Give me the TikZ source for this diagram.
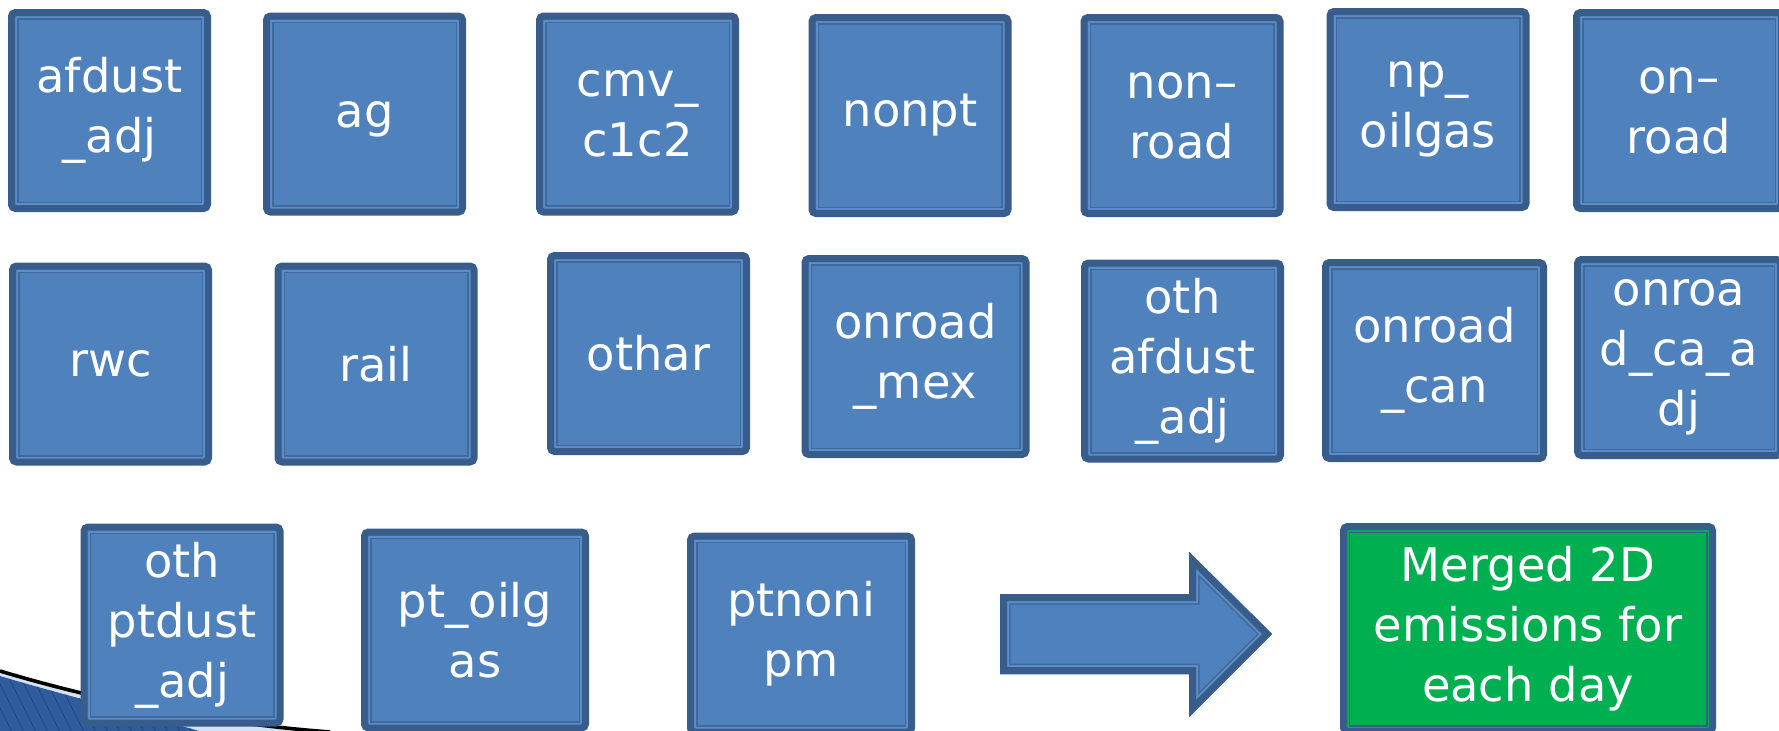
\documentclass[tikz,border=0pt]{standalone}
\usepackage{fontspec}
\setmainfont{DejaVu Sans}
\usepackage{xcolor}
\usepackage{tikz}
\usetikzlibrary{positioning}
\definecolor{boxfill}{HTML}{4F81BD}
\definecolor{boxedge}{HTML}{385D8A}
\definecolor{boxlight}{HTML}{5A8DCB}
\definecolor{boxinner}{HTML}{41699B}
\definecolor{mergefill}{HTML}{00B050}
\definecolor{bgblue}{HTML}{2E5C9F}
\definecolor{bgstripe}{HTML}{24497F}
\definecolor{bglight}{HTML}{D5E2F3}

\begin{document}
\begin{tikzpicture}[x=0.5pt, y=-0.5pt,
  srcbox/.style={rectangle, rounded corners=2pt, fill=boxfill, draw=boxedge,
    line width=3.5pt, text=white, align=center, inner sep=0pt,
    minimum width=98pt, minimum height=98pt,
    font=\fontsize{23.2}{30}\selectfont,
    path picture={
      \draw[boxlight, line width=1pt, sharp corners]
        ([shift={(4.5,-4.5)}]path picture bounding box.south west) rectangle
        ([shift={(-4.5,4.5)}]path picture bounding box.north east);
      \draw[boxinner, line width=0.75pt, sharp corners]
        ([shift={(6.25,-6.25)}]path picture bounding box.south west) rectangle
        ([shift={(-6.25,6.25)}]path picture bounding box.north east);
    }},
  widebox/.style={srcbox, minimum width=110.5pt},
  mergebox/.style={srcbox, fill=mergefill, minimum width=184.5pt, minimum height=102.5pt,
    path picture={
      \draw[mergefill, line width=0.75pt, sharp corners]
        ([shift={(4.25,-4.25)}]path picture bounding box.south west) rectangle
        ([shift={(-4.25,4.25)}]path picture bounding box.north east);
      \draw[boxedge, line width=0.75pt, sharp corners]
        ([shift={(5.75,-5.75)}]path picture bounding box.south west) rectangle
        ([shift={(-5.75,5.75)}]path picture bounding box.north east);
    }}]
  \useasboundingbox (0,0) rectangle (1779,730);
  \clip (0,0) rectangle (1779,730);

  % slide corner decoration
  \fill[bglight] (0,671) .. controls (90,698) and (200,722) .. (330,732) -- (0,735) -- cycle;
  \begin{scope}
    \clip (0,676) .. controls (70,697) and (150,716) .. (230,740) -- (0,740) -- cycle;
    \fill[bgblue] (0,660) rectangle (260,740);
    \foreach \i in {-60,-48,...,240}
      \draw[bgstripe, line width=0.5pt] (\i,660) -- ++(45,90);
  \end{scope}
  \draw[black, line width=1.8pt] (0,671) .. controls (90,698) and (200,722) .. (330,732);

  % row 1
  \node[srcbox] (afdust) at (109.5,110.5) {afdust\\\_adj};
  \node[srcbox, text depth=0pt] (ag) at (364.5,114) {ag};
  \node[srcbox] (cmv) at (637.5,114) {cmv\_\\c1c2};
  \node[srcbox] (nonpt) at (910,115.5) {nonpt};
  \node[srcbox] (nonroad) at (1182,115.5) {non–\\road};
  \node[srcbox] (npoil) at (1428,109.5) {np\_\\oilgas};
  \node[srcbox, minimum width=102.5pt] (onroad) at (1679,110.5) {on–\\road};

  % row 2
  \node[srcbox] (rwc) at (110.5,364) {rwc};
  \node[srcbox] (rail) at (376,364) {rail};
  \node[srcbox] (othar) at (648.5,353.5) {othar};
  \node[widebox] (mex) at (915.5,356.5) {onroad\\\_mex};
  \node[srcbox] (othaf) at (1182.5,361) {oth\\afdust\\\_adj};
  \node[widebox, minimum width=109pt] (can) at (1434.5,360.5) {onroad\\\_can};
  \node[srcbox, minimum width=101.5pt] (caadj) at (1679,357.5) {onroa\\d\_ca\_a\\dj};

  % row 3
  \node[srcbox] (othpt) at (182,625) {oth\\ptdust\\\_adj};
  \node[widebox] (ptoil) at (475,630) {pt\_oilg\\as};
  \node[widebox] (ptnoni) at (801,634) {ptnoni\\pm};

  % block arrow
  \begin{scope}
    \clip (1000,594) -- (1189,594) -- (1189,552) -- (1272,634) -- (1189,717)
      -- (1189,674) -- (1000,674) -- cycle;
    \fill[boxfill] (990,540) rectangle (1280,725);
    \foreach \w/\c in {10.5pt/boxinner, 9pt/boxlight, 7pt/boxedge}
      \draw[\c, line width=\w] (1000,594) -- (1189,594) -- (1189,552) -- (1272,634)
        -- (1189,717) -- (1189,674) -- (1000,674) -- cycle;
  \end{scope}

  \node[mergebox] (merged) at (1528,629) {Merged 2D\\emissions for\\each day};
\end{tikzpicture}
\end{document}
